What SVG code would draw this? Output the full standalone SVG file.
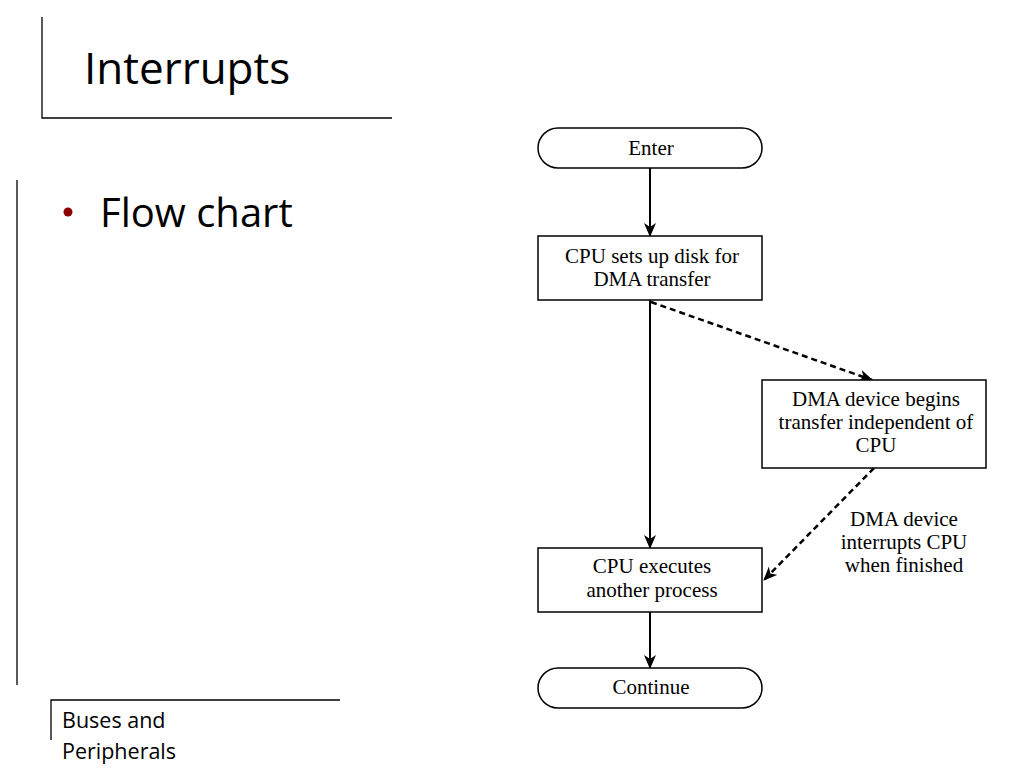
<svg xmlns="http://www.w3.org/2000/svg" width="1024" height="768" viewBox="0 0 1024 768">
<defs>
<marker id="arr" viewBox="0 0 14 12" refX="13" refY="6" markerWidth="14" markerHeight="12" markerUnits="userSpaceOnUse" orient="auto">
<path d="M0,0 L14,6 L0,12 L4,6 Z" fill="#000"/>
</marker>
<style>
.frame{stroke:#000;stroke-width:1.3;fill:none}
.node{fill:#fff;stroke:#000;stroke-width:1.5}
.ft{font-family:"Liberation Serif",serif;font-size:21px;fill:#000;text-anchor:middle}
.solid{stroke:#000;stroke-width:2;fill:none}
.dash{stroke:#000;stroke-width:2.5;fill:none;stroke-dasharray:6,4}
.sans{font-family:"Open Sans","Noto Sans",sans-serif;fill:#000}
</style>
</defs>
<rect width="1024" height="768" fill="#fff"/>
<g id="slide-frame">
<path class="frame" d="M42,17 V118 H392"/>
<path class="frame" d="M17,180 V685"/>
<path class="frame" d="M51,740 V700 H340"/>
</g>
<g id="title"><text class="sans" x="84" y="84" font-size="44">Interrupts</text></g>
<g id="bullet">
<circle cx="68" cy="212" r="4.5" fill="#8b0000"/>
<text class="sans" x="100" y="227" font-size="40">Flow chart</text>
</g>
<g id="footer">
<text class="sans" x="62" y="728" font-size="21.5">Buses and</text>
<text class="sans" x="62" y="759" font-size="21.5">Peripherals</text>
</g>
<g id="connectors">
<line class="solid" x1="650" y1="168" x2="650" y2="236" marker-end="url(#arr)"/>
<line class="solid" x1="650" y1="300" x2="650" y2="548" marker-end="url(#arr)"/>
<line class="solid" x1="650" y1="612" x2="650" y2="668" marker-end="url(#arr)"/>
<line class="dash" x1="651" y1="302" x2="872" y2="380" marker-end="url(#arr)"/>
<line class="dash" x1="874" y1="468" x2="764" y2="580" marker-end="url(#arr)"/>
</g>
<g id="enter">
<rect class="node" x="538" y="128" width="224" height="40" rx="20"/>
<text class="ft" x="651" y="155">Enter</text>
</g>
<g id="cpu-setup">
<rect class="node" x="538" y="236" width="224" height="64"/>
<text class="ft" x="652" y="263">CPU sets up disk for</text>
<text class="ft" x="652" y="286">DMA transfer</text>
</g>
<g id="dma-begins">
<rect class="node" x="762" y="380" width="224" height="88"/>
<text class="ft" x="876" y="406">DMA device begins</text>
<text class="ft" x="876" y="429">transfer independent of</text>
<text class="ft" x="876" y="452">CPU</text>
</g>
<g id="dma-label">
<text class="ft" x="904" y="526">DMA device</text>
<text class="ft" x="904" y="549">interrupts CPU</text>
<text class="ft" x="904" y="572">when finished</text>
</g>
<g id="cpu-executes">
<rect class="node" x="538" y="548" width="224" height="64"/>
<text class="ft" x="652" y="573">CPU executes</text>
<text class="ft" x="652" y="597">another process</text>
</g>
<g id="continue">
<rect class="node" x="538" y="668" width="224" height="40" rx="20"/>
<text class="ft" x="651" y="694">Continue</text>
</g>
</svg>
